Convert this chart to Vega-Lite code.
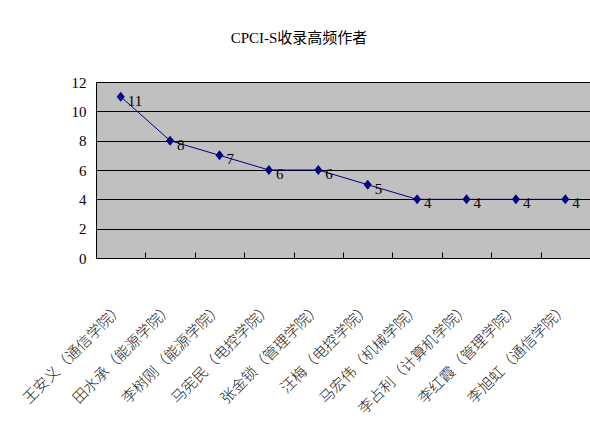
{
  "$schema": "https://vega.github.io/schema/vega-lite/v6.json",
  "width": 494,
  "height": 176,
  "autosize": "none",
  "padding": {"left": 96, "top": 82, "right": 0, "bottom": 178},
  "background": "white",
  "title": {
    "text": "CPCI-S收录高频作者",
    "font": "Liberation Serif, Noto Sans CJK SC",
    "fontSize": 15,
    "fontWeight": "normal",
    "color": "#000000",
    "anchor": "middle",
    "frame": "group",
    "dx": -44,
    "offset": 29
  },
  "config": {
    "view": {"fill": "#C0C0C0", "stroke": "#606060", "strokeWidth": 1},
    "font": "Liberation Serif, Noto Sans CJK SC"
  },
  "data": {
    "values": [
      {"author": "王安义（通信学院）", "count": 11},
      {"author": "田水承（能源学院）", "count": 8},
      {"author": "李树刚（能源学院）", "count": 7},
      {"author": "马宪民（电控学院）", "count": 6},
      {"author": "张金锁（管理学院）", "count": 6},
      {"author": "汪梅（电控学院）", "count": 5},
      {"author": "马宏伟（机械学院）", "count": 4},
      {"author": "李占利（计算机学院）", "count": 4},
      {"author": "李红霞（管理学院）", "count": 4},
      {"author": "李旭虹（通信学院）", "count": 4}
    ]
  },
  "encoding": {
    "x": {
      "field": "author",
      "type": "nominal",
      "sort": null,
      "scale": {"type": "band", "paddingInner": 0, "paddingOuter": 0},
      "axis": {
        "title": null,
        "tickBand": "extent",
        "ticks": true,
        "tickSize": -6,
        "tickColor": "#000000",
        "domainColor": "#000000",
        "domainWidth": 1,
        "grid": false,
        "labelAngle": -45,
        "labelAlign": "right",
        "labelBaseline": "middle",
        "labelPadding": 53,
        "labelFont": "Noto Sans CJK SC",
        "labelFontSize": 15,
        "labelFontWeight": 300,
        "labelColor": "#222222",
        "labelOverlap": false,
        "labelLimit": 0
      }
    },
    "y": {
      "field": "count",
      "type": "quantitative",
      "scale": {"domain": [0, 12], "nice": false, "zero": true},
      "axis": {
        "title": null,
        "values": [0, 2, 4, 6, 8, 10, 12],
        "grid": true,
        "gridColor": "#000000",
        "gridOpacity": 1,
        "gridWidth": 1,
        "ticks": false,
        "domainColor": "#000000",
        "labelPadding": 10,
        "labelFont": "Liberation Serif",
        "labelFontSize": 15,
        "labelColor": "#000000"
      }
    }
  },
  "layer": [
    {
      "mark": {"type": "line", "color": "#000080", "strokeWidth": 1}
    },
    {
      "mark": {
        "type": "point",
        "shape": "M0,-1L0.8,0L0,1L-0.8,0Z",
        "size": 100,
        "filled": true,
        "color": "#000080",
        "opacity": 1
      }
    },
    {
      "mark": {
        "type": "text",
        "align": "left",
        "baseline": "middle",
        "dx": 7,
        "dy": 4,
        "font": "Liberation Serif",
        "fontSize": 15,
        "color": "#000000"
      },
      "encoding": {"text": {"field": "count", "type": "quantitative"}}
    }
  ]
}
